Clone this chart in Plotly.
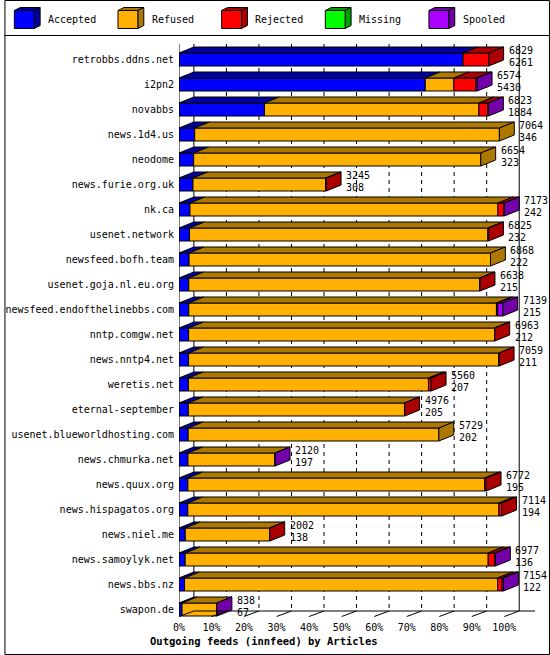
import plotly.graph_objects as go

# ---------------- data ----------------
hosts = ["retrobbs.ddns.net", "i2pn2", "novabbs", "news.1d4.us", "neodome",
         "news.furie.org.uk", "nk.ca", "usenet.network", "newsfeed.bofh.team",
         "usenet.goja.nl.eu.org", "newsfeed.endofthelinebbs.com", "nntp.comgw.net",
         "news.nntp4.net", "weretis.net", "eternal-september",
         "usenet.blueworldhosting.com", "news.chmurka.net", "news.quux.org",
         "news.hispagatos.org", "news.niel.me", "news.samoylyk.net", "news.bbs.nz",
         "swapon.de"]
total = [6829, 6574, 6823, 7064, 6654, 3245, 7173, 6825, 6868, 6638, 7139, 6963,
         7059, 5560, 4976, 5729, 2120, 6772, 7114, 2002, 6977, 7154, 838]
accepted = [6261, 5430, 1884, 346, 323, 308, 242, 232, 222, 215, 215, 212,
            211, 207, 205, 202, 197, 195, 194, 138, 136, 122, 67]
refused = [0, 630, 4727, 6718, 6331, 2927, 6791, 6578, 6646, 6413, 6784, 6746,
           6843, 5293, 4766, 5527, 1918, 6542, 6860, 1859, 6681, 6902, 768]
rejected = [568, 490, 200, 0, 0, 10, 130, 15, 0, 10, 30, 5,
            5, 60, 5, 0, 0, 35, 60, 5, 150, 100, 0]
missing = [0, 0, 0, 0, 0, 0, 0, 0, 0, 0, 0, 0,
           0, 0, 0, 0, 0, 0, 0, 0, 0, 0, 0]
spooled = [0, 24, 12, 0, 0, 0, 10, 0, 0, 0, 110, 0,
           0, 0, 0, 0, 5, 0, 0, 0, 10, 30, 3]

series_names = ["Accepted", "Refused", "Rejected", "Missing", "Spooled"]
front_colors = ["#0000FF", "#FFB000", "#FF0000", "#00FF00", "#AA00FF"]
dark_colors = ["#0000A0", "#AD7800", "#AA0000", "#00A000", "#7400AA"]
x_tick_values = [0, 10, 20, 30, 40, 50, 60, 70, 80, 90, 100]
x_tick_labels = ["0%", "10%", "20%", "30%", "40%", "50%", "60%", "70%", "80%", "90%", "100%"]
title_text = "Outgoing feeds (innfeed) by Articles"

# ---------------- geometry ----------------
FONT = "DejaVu Sans Mono"
W, H = 550, 655
ML, MR, MT, MB = 176, 5, 36, 35
PW, PH = W - ML - MR, H - MT - MB
PX_PCT = 3.28          # pixels per percent
ROW_PX = 25.0          # pixels per row
XMAX = PW / PX_PCT
Y_TOP = -(59.5 - MT) / ROW_PX
Y_BOT = Y_TOP + PH / ROW_PX
DX = 15 / PX_PCT       # depth offset (x)
DY = -6 / ROW_PX       # depth offset (y, upwards)
HALF = 6.5 / ROW_PX    # half bar height


def pxx(px):
    return (px - ML) / PW


def pxy(py):
    return 1 - (py - MT) / PH


series = [accepted, refused, rejected, missing, spooled]
n = len(hosts)
scale = 100.0 / max(total)

fig = go.Figure()
starts = [0] * n
last_seg = [None] * n
for s, vals in enumerate(series):
    bx, bbase, by = [], [], []
    tx, ty = [], []
    for i in range(n):
        v = vals[i]
        if v <= 0:
            continue
        x0 = starts[i] * scale
        x1 = (starts[i] + v) * scale
        bx.append(x1 - x0)
        bbase.append(x0)
        by.append(i)
        yt = i - HALF
        tx += [x0, x1, x1 + DX, x0 + DX, x0, None]
        ty += [yt, yt, yt + DY, yt + DY, yt, None]
        starts[i] += v
        last_seg[i] = s
    if bx:
        fig.add_trace(go.Bar(x=bx, base=bbase, y=by, orientation="h", width=2 * HALF,
                             marker=dict(color=front_colors[s], line=dict(color="black", width=1)),
                             name=series_names[s], showlegend=False, hoverinfo="skip"))
        fig.add_trace(go.Scatter(x=tx, y=ty, mode="lines", fill="toself",
                                 fillcolor=dark_colors[s], line=dict(color="black", width=1),
                                 showlegend=False, hoverinfo="skip"))

# side faces
for s in range(len(series)):
    sx, sy = [], []
    for i in range(n):
        if last_seg[i] != s:
            continue
        x1 = starts[i] * scale
        yt, yb = i - HALF, i + HALF
        sx += [x1, x1 + DX, x1 + DX, x1, x1, None]
        sy += [yt, yt + DY, yb + DY, yb, yt, None]
    if sx:
        fig.add_trace(go.Scatter(x=sx, y=sy, mode="lines", fill="toself",
                                 fillcolor=dark_colors[s], line=dict(color="black", width=1),
                                 showlegend=False, hoverinfo="skip"))

shapes = []
annotations = []

# value labels
for i in range(n):
    xe = starts[i] * scale + DX + 3 / PX_PCT
    annotations.append(dict(x=xe, y=i - 0.38, xref="x", yref="y", text=str(total[i]),
                            showarrow=False, xanchor="left", yanchor="middle",
                            font=dict(family=FONT, size=10, color="black")))
    annotations.append(dict(x=xe, y=i + 0.10, xref="x", yref="y", text=str(accepted[i]),
                            showarrow=False, xanchor="left", yanchor="middle",
                            font=dict(family=FONT, size=10, color="black")))

# back wall grid lines
Y_WALL_TOP = (44 - 59.5) / ROW_PX
Y_BACK_FLOOR = (611 - 59.5) / ROW_PX
Y_FRONT_FLOOR = (616.5 - 59.5) / ROW_PX
for k in x_tick_values:
    solid = k in (x_tick_values[0], x_tick_values[-1])
    shapes.append(dict(type="line", xref="x", yref="y", x0=k + DX, x1=k + DX,
                       y0=Y_WALL_TOP, y1=Y_BACK_FLOOR, layer="below",
                       line=dict(color="black", width=1, dash="solid" if solid else "4px,4px")))
    # floor tick
    shapes.append(dict(type="line", xref="x", yref="y", x0=k, x1=k + DX,
                       y0=Y_FRONT_FLOOR, y1=Y_BACK_FLOOR, layer="above",
                       line=dict(color="black", width=1)))
# front-left axis line
shapes.append(dict(type="line", xref="x", yref="y", x0=0, x1=0, y0=Y_WALL_TOP, y1=Y_FRONT_FLOOR,
                   layer="above", line=dict(color="black", width=1)))
# back floor line
shapes.append(dict(type="line", xref="x", yref="y", x0=DX, x1=(535 - ML) / PX_PCT,
                   y0=Y_BACK_FLOOR, y1=Y_BACK_FLOOR, layer="above",
                   line=dict(color="black", width=1)))
# small left floor tick
shapes.append(dict(type="line", xref="x", yref="y", x0=-13 / PX_PCT, x1=0,
                   y0=Y_FRONT_FLOOR + 3 / ROW_PX, y1=Y_FRONT_FLOOR, layer="above",
                   line=dict(color="black", width=1)))

# frame and legend separator
shapes.append(dict(type="rect", xref="paper", yref="paper", x0=pxx(0.5), x1=pxx(549.5),
                   y0=pxy(0.5), y1=pxy(654.5), line=dict(color="black", width=1)))
shapes.append(dict(type="line", xref="paper", yref="paper", x0=pxx(0), x1=pxx(550),
                   y0=pxy(35.5), y1=pxy(35.5), line=dict(color="black", width=1)))

# legend with 3D boxes
leg_x = [10, 114.5, 219, 323.5, 428]
for s, name in enumerate(series_names):
    x0 = leg_x[s]
    x1, yt, yb = x0 + 20, 10.5, 28.5
    ddx, ddy = 6, -3
    top = f"M {pxx(x0)},{pxy(yt)} L {pxx(x1)},{pxy(yt)} L {pxx(x1+ddx)},{pxy(yt+ddy)} L {pxx(x0+ddx)},{pxy(yt+ddy)} Z"
    side = f"M {pxx(x1)},{pxy(yt)} L {pxx(x1+ddx)},{pxy(yt+ddy)} L {pxx(x1+ddx)},{pxy(yb+ddy)} L {pxx(x1)},{pxy(yb)} Z"
    shapes.append(dict(type="path", xref="paper", yref="paper", path=top,
                       fillcolor=dark_colors[s], line=dict(color="black", width=1)))
    shapes.append(dict(type="path", xref="paper", yref="paper", path=side,
                       fillcolor=dark_colors[s], line=dict(color="black", width=1)))
    shapes.append(dict(type="rect", xref="paper", yref="paper", x0=pxx(x0), x1=pxx(x1),
                       y0=pxy(yb), y1=pxy(yt), fillcolor=front_colors[s],
                       line=dict(color="black", width=1)))
    annotations.append(dict(x=pxx(x0 + 32), y=pxy(20), xref="paper", yref="paper",
                            text=name, showarrow=False, xanchor="left", yanchor="middle",
                            font=dict(family=FONT, size=10, color="black")))

# title at bottom
annotations.append(dict(x=pxx(262), y=pxy(641), xref="paper", yref="paper",
                        text="<b>" + title_text + "</b>", showarrow=False,
                        xanchor="center", yanchor="middle",
                        font=dict(family=FONT, size=10.5, color="black")))

fig.update_layout(
    width=W, height=H,
    margin=dict(l=ML, r=MR, t=MT, b=MB, pad=0),
    paper_bgcolor="white", plot_bgcolor="white",
    barmode="overlay", showlegend=False,
    font=dict(family=FONT, size=10, color="black"),
    shapes=shapes, annotations=annotations,
    xaxis=dict(range=[0, XMAX], tickmode="array", tickvals=x_tick_values,
               ticktext=x_tick_labels, showgrid=False, zeroline=False, showline=False,
               ticks="", tickfont=dict(family=FONT, size=10, color="black"), fixedrange=True),
    yaxis=dict(range=[Y_BOT, Y_TOP], tickmode="array", tickvals=list(range(n)),
               ticktext=hosts, showgrid=False, zeroline=False, showline=False,
               ticks="outside", ticklen=2, tickcolor="rgba(0,0,0,0)",
               tickfont=dict(family=FONT, size=10, color="black"), fixedrange=True),
)

fig.write_html("out.html", config={"displayModeBar": False},
               post_script="document.body.style.margin='0';document.body.style.overflow='hidden';")
